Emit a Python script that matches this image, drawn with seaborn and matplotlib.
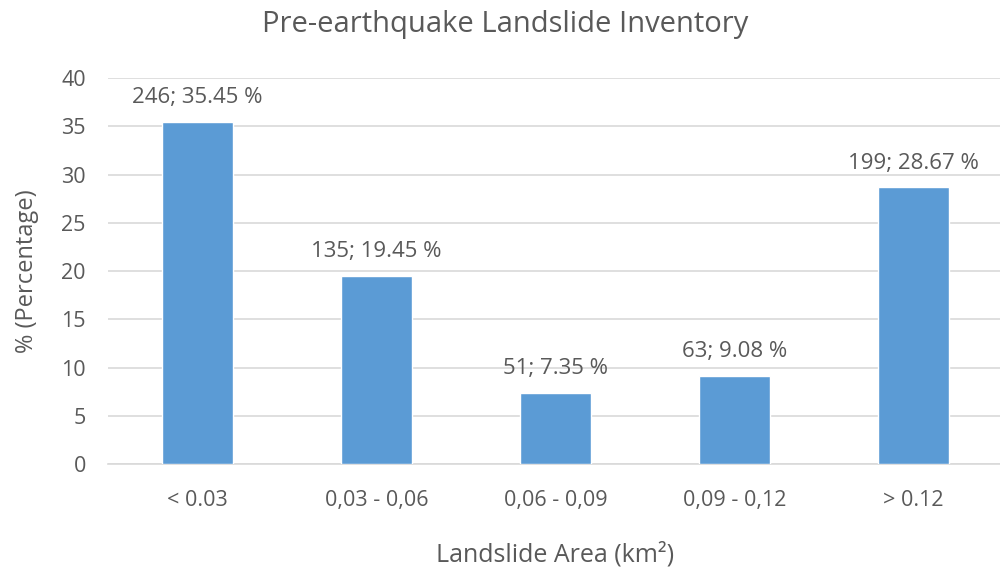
import matplotlib
matplotlib.use("Agg")
import matplotlib.pyplot as plt
import seaborn as sns
import pandas as pd

# Landslide inventory by area class
categories = ["< 0.03", "0,03 - 0,06", "0,06 - 0,09", "0,09 - 0,12", "> 0.12"]
counts = [246, 135, 51, 63, 199]
percentages = [35.45, 19.45, 7.35, 9.08, 28.67]
y_ticks = [0, 5, 10, 15, 20, 25, 30, 35, 40]

df = pd.DataFrame({"area": categories, "pct": percentages, "n": counts})

sns.set_theme(style="white")
plt.rcParams["font.family"] = ["Open Sans", "DejaVu Sans"]

text_color = "#595959"
grid_color = "#d9d9d9"
bar_color = "#5b9bd5"

fig = plt.figure(figsize=(10, 5.7), dpi=100)
ax = fig.add_axes([0.108, 0.186, 0.895, 0.677])

sns.barplot(data=df, x="area", y="pct", color=bar_color, width=0.4,
            saturation=1, ax=ax, zorder=3)

ax.set_ylim(0, 40)
ax.set_yticks(y_ticks)
ax.set_xlim(-0.5, len(categories) - 0.5)
ax.yaxis.grid(True, color=grid_color, linewidth=1.2, zorder=0)
ax.set_axisbelow(True)

for side in ["top", "right", "left"]:
    ax.spines[side].set_visible(False)
ax.spines["bottom"].set_color(grid_color)
ax.spines["bottom"].set_linewidth(1.2)

# category boundary ticks on the x axis
ax.set_xticks([i - 0.5 for i in range(len(categories) + 1)], minor=True)
ax.tick_params(axis="x", which="minor", length=5, color=grid_color, width=1.2)
ax.tick_params(axis="x", which="major", length=0, pad=19, labelsize=15.5,
               labelcolor=text_color)
ax.tick_params(axis="y", length=0, pad=16, labelsize=15.5, labelcolor=text_color)

for i, (n, p) in enumerate(zip(counts, percentages)):
    ax.annotate(f"{n}; {p:.2f} %", xy=(i, p), xytext=(0, 10),
                textcoords="offset points", ha="center", va="bottom",
                fontsize=16, color=text_color)

ax.set_xlabel("Landslide Area (km²)", fontsize=18, color=text_color, labelpad=22)
ax.set_ylabel("% (Percentage)", fontsize=17, color=text_color, labelpad=16)

fig.text(0.505, 0.957, "Pre-earthquake Landslide Inventory", ha="center",
         va="center", fontsize=21, color=text_color)

fig.savefig("out.png", dpi=100, facecolor="white")
